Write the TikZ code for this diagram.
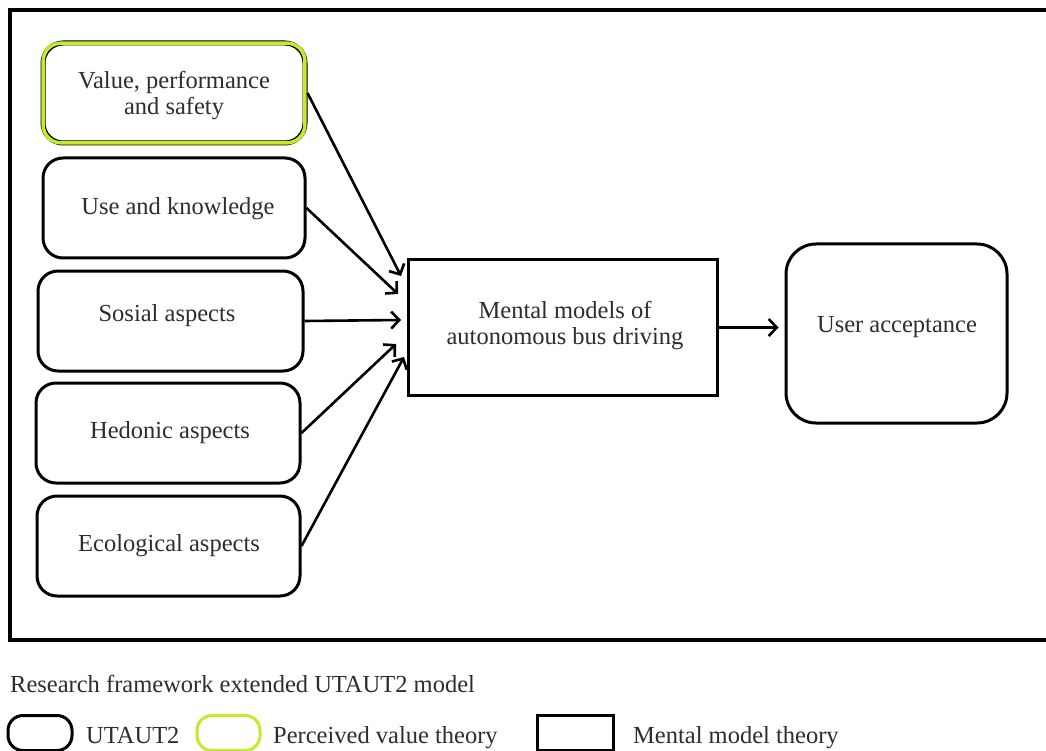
\documentclass[tikz,border=0pt]{standalone}
\usepackage{fontspec}
\setmainfont{Liberation Serif}
\usetikzlibrary{arrows.meta,calc}
\definecolor{txt}{RGB}{45,45,45}
\definecolor{lgreen}{RGB}{192,236,40}
\begin{document}
\begin{tikzpicture}[x=1pt,y=-1pt,
  every node/.style={font=\fontsize{24.5}{26}\selectfont, text=txt, inner sep=0pt},
  rbox/.style={draw=black, line width=3pt, rounded corners=20pt, align=center},
  gbox/.style={draw=black, line width=5pt, rounded corners=20pt, align=center},
  sbox/.style={draw=black, line width=3pt, align=center},
  arr/.style={line width=2.6pt, -{Straight Barb[length=8pt,width=17pt]}},
  lab/.style={anchor=base west}
]
\useasboundingbox (0,0) rectangle (1046,751);
\fill[white] (0,0) rectangle (1046,751);
% frame
\draw[line width=4pt] (1050,10) -- (10,10) -- (10,640) -- (1050,640);

% input boxes
\node[gbox, minimum width=262pt, minimum height=100pt] (vps) at (174,93) {};
\draw[lgreen, line width=3.5pt, rounded corners=18pt] ($(vps.south west)+(2.6,-2.6)$) rectangle ($(vps.north east)+(-2.6,2.6)$);
\node[align=center] (vpst) at (174,96) {Value, performance\\and safety};
\node[rbox, minimum width=262pt, minimum height=100pt] (uk) at (174,208) {};
\node (ukt) at (178,209) {Use and knowledge};
\node[rbox, minimum width=265pt, minimum height=100pt] (sa) at (170.5,321) {};
\node (sat) at (167,316) {Sosial aspects};
\node[rbox, minimum width=264pt, minimum height=100pt] (ha) at (168,433) {};
\node (hat) at (170,433) {Hedonic aspects};
\node[rbox, minimum width=263pt, minimum height=100pt] (ea) at (168.5,546) {};
\node (eat) at (169,546) {Ecological aspects};

% mental model box
\node[sbox, minimum width=309pt, minimum height=135pt] (mm) at (562.5,327.5) {};
\node[align=center] (mmt) at (565,326) {Mental models of\\autonomous bus driving};

% user acceptance
\node[rbox, rounded corners=30pt, minimum width=221pt, minimum height=179pt] (ua) at (896.5,333.5) {};
\node (uat) at (897,327) {User acceptance};

% arrow ends
\coordinate (e1) at (401,276);
\coordinate (e2) at (398,294);
\coordinate (e3) at (401,320);
\coordinate (e4) at (396,344);
\coordinate (e5) at (404,357);

\draw[arr] (vps.east) -- (e1);
\draw[arr] (uk.east) -- (e2);
\draw[arr] (sa.east) -- (e3);
\draw[arr] (ha.east) -- (e4);
\draw[arr] (ea.east) -- (e5);
\draw[arr, shorten >=6pt] (mm.east) -- (mm.east -| ua.west);

% legend
\node[lab] (cap) at (10,692) {Research framework extended UTAUT2 model};
\node[draw=black, line width=3pt, rounded corners=15pt, minimum width=64pt, minimum height=35pt] (l1) at (40,733) {};
\node[lab] (l1t) at (86,743) {UTAUT2};
\node[draw=lgreen, line width=3pt, rounded corners=15pt, minimum width=63pt, minimum height=35pt] (l2) at (228.5,733) {};
\node[lab] (l2t) at (273,743) {Perceived value theory};
\node[draw=black, line width=3pt, minimum width=76pt, minimum height=35pt] (l3) at (575,733) {};
\node[lab] (l3t) at (633,743) {Mental model theory};
\end{tikzpicture}
\end{document}
